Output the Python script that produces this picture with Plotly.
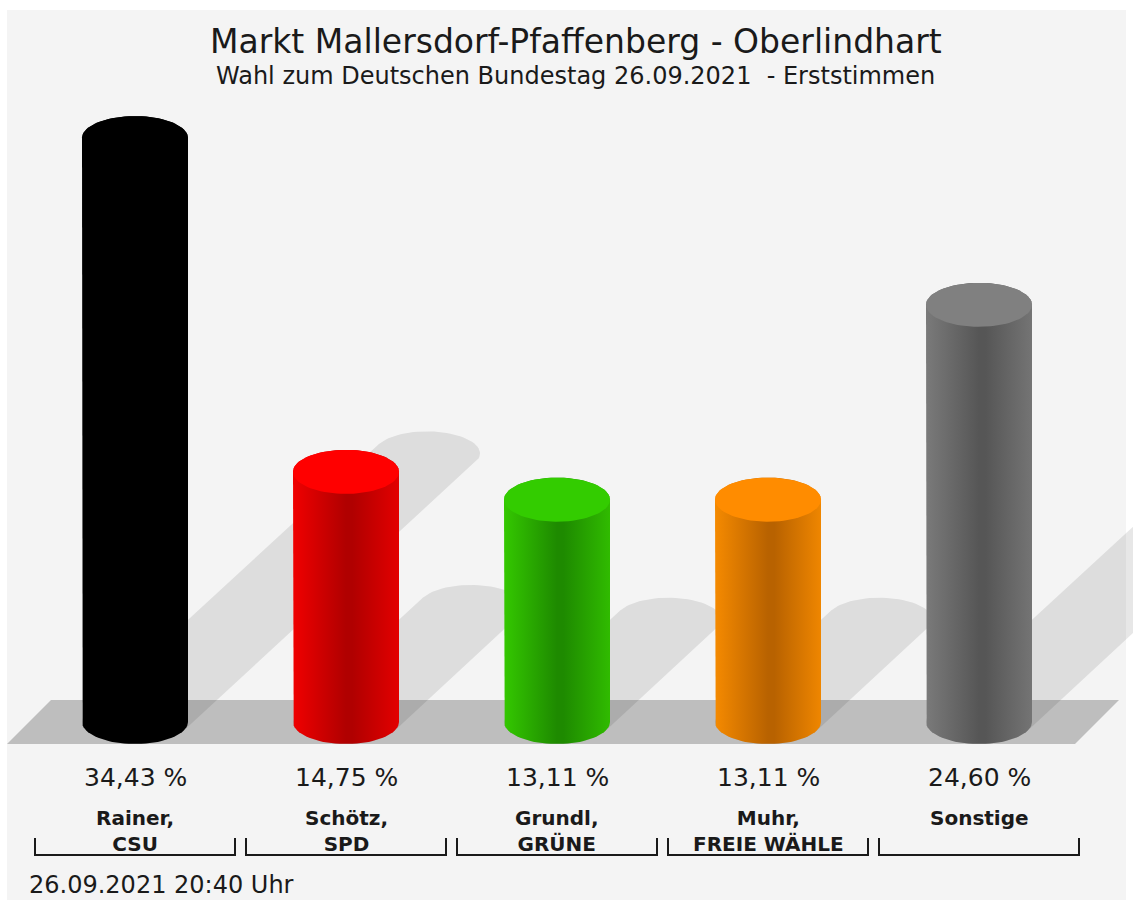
import numpy as np
import plotly.graph_objects as go

# --- data ---
candidates = ["Rainer,<br>CSU", "Schötz,<br>SPD", "Grundl,<br>GRÜNE", "Muhr,<br>FREIE WÄHLE", "Sonstige"]
shares = [34.43, 14.75, 13.11, 13.11, 24.60]
share_labels = ["34,43 %", "14,75 %", "13,11 %", "13,11 %", "24,60 %"]

title = "Markt Mallersdorf-Pfaffenberg - Oberlindhart"
subtitle = "Wahl zum Deutschen Bundestag 26.09.2021&nbsp; - Erststimmen"
stamp = "26.09.2021 20:40 Uhr"

# cylinder colours: flat top, body gradient left -> dark -> right
top_colors = ["#000000", "#ff0000", "#33cc00", "#ff8c00", "#808080"]
body_colors = [
    ["#000000", "#000000", "#000000"],
    ["#f00000", "#b00000", "#e30000"],
    ["#34c800", "#1e8a00", "#30bb00"],
    ["#f58a00", "#b86200", "#ef8600"],
    ["#7a7a7a", "#565656", "#747474"],
]

# --- geometry (pixels of the 1133x909 page) ---
W, H = 1133, 909
X0_PX, STEP_PX = 135, 211      # centre of first cylinder, spacing
BASE_PX, PX_PER_PCT = 722, 16.96
R_X = 53 / STEP_PX             # cylinder half width in x units
R_Y = 22 / PX_PER_PCT          # ellipse half height in % units
SH_X, SH_Y = 0.5, 0.46         # shadow shear
FONT = "DejaVu Sans, Arial, sans-serif"


def py(px):
    return 1 - px / H


def ellipse(cx, cy, t):
    return cx + R_X * np.cos(t), cy + R_Y * np.sin(t)


def hull(pts):
    pts = sorted(set(map(tuple, pts)))

    def cross(o, a, b):
        return (a[0] - o[0]) * (b[1] - o[1]) - (a[1] - o[1]) * (b[0] - o[0])

    lower, upper = [], []
    for p in pts:
        while len(lower) >= 2 and cross(lower[-2], lower[-1], p) <= 0:
            lower.pop()
        lower.append(p)
    for p in reversed(pts):
        while len(upper) >= 2 and cross(upper[-2], upper[-1], p) <= 0:
            upper.pop()
        upper.append(p)
    h = lower[:-1] + upper[:-1]
    return [p[0] for p in h], [p[1] for p in h]


fig = go.Figure()
n = len(shares)
t = np.linspace(0, 2 * np.pi, 80)

# floor
slant = 2 * R_Y * PX_PER_PCT / STEP_PX
fl, fr = (7 - X0_PX) / STEP_PX, (n - 1) + (1075 - X0_PX - (n - 1) * STEP_PX) / STEP_PX
fig.add_trace(go.Scatter(
    x=[fl, fl + slant, fr + slant, fr, fl], y=[-R_Y, R_Y, R_Y, -R_Y, -R_Y],
    fill="toself", mode="lines", line=dict(width=0, color="rgba(0,0,0,0)"),
    fillcolor="#bebebe", hoverinfo="skip", showlegend=False,
))

# shadows
for i, v in enumerate(shares):
    dx = SH_X * v * PX_PER_PCT / STEP_PX
    dy = SH_Y * v
    bx, by = ellipse(i, 0, t)
    tx, ty = ellipse(i + dx, dy, t)
    hx, hy = hull(list(zip(np.r_[bx, tx], np.r_[by, ty])))
    fig.add_trace(go.Scatter(
        x=hx + hx[:1], y=hy + hy[:1], fill="toself", mode="lines",
        line=dict(width=0, color="rgba(0,0,0,0)"),
        fillcolor="rgba(0,0,0,0.095)", hoverinfo="skip", showlegend=False,
    ))

# cylinders
for i, v in enumerate(shares):
    lo = np.linspace(np.pi, 2 * np.pi, 40)
    up = np.linspace(0, np.pi, 40)
    bx, by = ellipse(i, 0, lo)
    ux, uy = ellipse(i, v, up)
    xs = np.r_[[i - R_X], bx, ux, [i - R_X]]
    ys = np.r_[[v], by, uy, [v]]
    c0, c1, c2 = body_colors[i]
    fig.add_trace(go.Scatter(
        x=xs, y=ys, fill="toself", mode="lines",
        line=dict(width=0, color="rgba(0,0,0,0)"),
        fillgradient=dict(type="horizontal",
                          colorscale=[[0, c0], [0.5, c1], [0.56, c1], [1, c2]]),
        hoverinfo="skip", showlegend=False,
    ))
    ex, ey = ellipse(i, v, t)
    fig.add_trace(go.Scatter(
        x=ex, y=ey, fill="toself", mode="lines",
        line=dict(width=0, color="rgba(0,0,0,0)"),
        fillcolor=top_colors[i], hoverinfo="skip", showlegend=False,
    ))

annotations = [
    dict(text=title, x=0.508, y=py(41), font=dict(size=33, color="#1a1a1a")),
    dict(text=subtitle, x=0.508, y=py(76), font=dict(size=24, color="#1a1a1a")),
    dict(text=stamp, x=27 / W, xanchor="left", y=py(885), font=dict(size=24, color="#1a1a1a")),
]
shapes = [
    dict(type="rect", xref="paper", yref="paper", x0=7 / W, x1=1126 / W,
         y0=py(900), y1=py(10), fillcolor="#f4f4f4", line=dict(width=0), layer="below"),
]
for i in range(n):
    annotations.append(dict(text=share_labels[i], x=i, xref="x", y=py(777),
                            font=dict(size=25, color="#1a1a1a")))
    annotations.append(dict(text="<b>%s</b>" % candidates[i], x=i, xref="x", y=py(804),
                            yanchor="top", font=dict(size=20, color="#1a1a1a")))
    hw = 100 / STEP_PX
    shapes.append(dict(
        type="path", xref="x", yref="paper",
        path="M %f,%f L %f,%f L %f,%f L %f,%f" % (
            i - hw, py(838), i - hw, py(855), i + hw, py(855), i + hw, py(838)),
        line=dict(color="#1a1a1a", width=2),
    ))
for a in annotations:
    a.setdefault("xref", "paper")
    a["yref"] = "paper"
    a["showarrow"] = False
    a.setdefault("xanchor", "center")
    a.setdefault("yanchor", "middle")

fig.update_layout(
    width=W, height=H,
    margin=dict(l=0, r=0, t=0, b=0, pad=0),
    paper_bgcolor="white", plot_bgcolor="rgba(0,0,0,0)",
    font=dict(family=FONT, color="#1a1a1a"),
    xaxis=dict(range=[-X0_PX / STEP_PX, (W - X0_PX) / STEP_PX], visible=False, fixedrange=True),
    yaxis=dict(range=[(BASE_PX - H) / PX_PER_PCT, BASE_PX / PX_PER_PCT], visible=False, fixedrange=True),
    annotations=annotations,
    shapes=shapes,
    showlegend=False,
)

fig.write_html("out.html", config={"displayModeBar": False},
               post_script="document.body.style.margin='0';document.body.style.overflow='hidden';")
